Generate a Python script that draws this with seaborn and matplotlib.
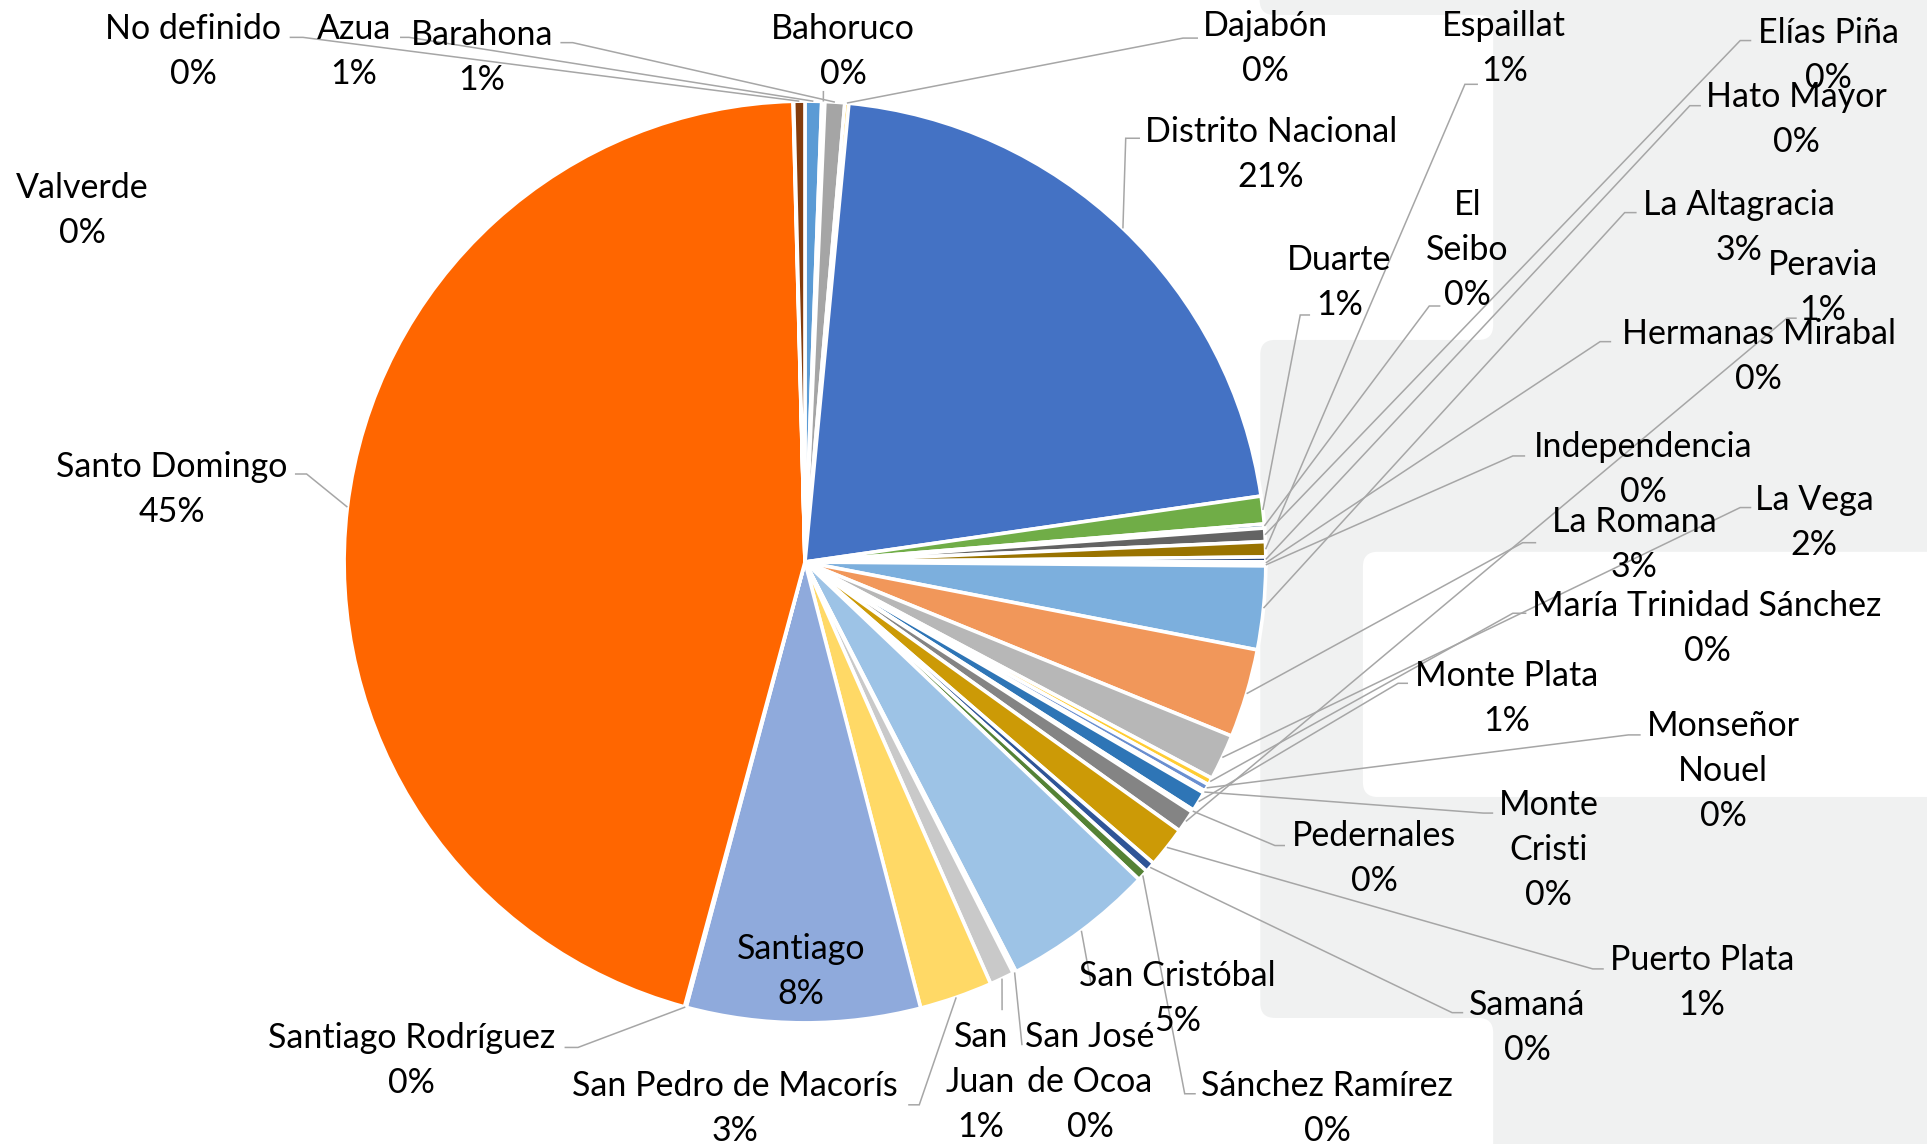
import numpy as np
import matplotlib
matplotlib.use("Agg")
import matplotlib.pyplot as plt
from matplotlib.patches import FancyBboxPatch, Rectangle
import seaborn as sns

# Provinces in sheet order (pie runs clockwise from 12 o'clock)
provinces = [
    "Azua", "Bahoruco", "Barahona", "Dajabón", "Distrito Nacional", "Duarte",
    "El Seibo", "Elías Piña", "Espaillat", "Hato Mayor", "Hermanas Mirabal",
    "Independencia", "La Altagracia", "La Romana", "La Vega",
    "María Trinidad Sánchez", "Monseñor Nouel", "Monte Cristi", "Monte Plata",
    "Pedernales", "Peravia", "Puerto Plata", "Samaná", "Sánchez Ramírez",
    "San Cristóbal", "San José de Ocoa", "San Juan", "San Pedro de Macorís",
    "Santiago", "Santiago Rodríguez", "Santo Domingo", "Valverde", "No definido",
]

# Share of the total, in percent
shares = [
    0.58, 0.11, 0.69, 0.14, 21.19, 0.97,
    0.14, 0.47, 0.53, 0.17, 0.07,
    0.07, 2.92, 3.11, 1.61,
    0.25, 0.25, 0.08, 0.69,
    0.08, 0.78, 1.44, 0.36, 0.39,
    5.33, 0.11, 0.86, 2.56,
    8.19, 0.06, 45.37, 0.02, 0.39,
]

slice_colors = [
    "#5B9BD5", "#ED7D31", "#A5A5A5", "#FFC000", "#4472C4", "#70AD47",
    "#255E91", "#636363", "#997300", "#264478", "#43682B",
    "#698ED0", "#7CAFDD", "#F1975A", "#B7B7B7",
    "#FFCD33", "#6A8FD0", "#3B64AD", "#2E75B6",
    "#C55A11", "#848484", "#CC9A06", "#2F5597", "#548235",
    "#9DC3E6", "#A9D18E", "#C9C9C9", "#FFD966",
    "#8FAADC", "#F4B183", "#FF6600", "#7F6000", "#843C0C",
]

# Label text broken over several lines
wrapped = {
    "El Seibo": ["El", "Seibo"],
    "Monseñor Nouel": ["Monseñor", "Nouel"],
    "Monte Cristi": ["Monte", "Cristi"],
    "San José de Ocoa": ["San José", "de Ocoa"],
    "San Juan": ["San", "Juan"],
}

# Layout grid: 1568 units across the canvas
W = 1568.0
H = W * 1144 / 1927
CX, CY, R = 655.0, 457.3, 375.0
LINE_STEP = 36.6

# label centre (first line) and leader path from the label towards the pie
label_layout = {
    "Azua": ((288, 22), [(325.5, 30.4), (332.8, 30.4)]),
    "Bahoruco": ((686, 22), [(670, 74)]),
    "Barahona": ((392, 27), [(456, 34.7), (466, 34.7)]),
    "Dajabón": ((1030, 19), [(974.8, 31), (962.6, 31)]),
    "Distrito Nacional": ((1034, 105.8), [(927.6, 112.5), (916, 112.5)]),
    "Duarte": ((1090, 210), [(1066, 256.3), (1058, 256.3)]),
    "El Seibo": ((1194, 165), [(1172, 249), (1163, 249)]),
    "Elías Piña": ((1488, 25), [(1425, 33), (1416, 33)]),
    "Espaillat": ((1224, 19), [(1202.6, 68.6), (1192, 68.6)]),
    "Hato Mayor": ((1462, 77), [(1384, 86), (1375, 86)]),
    "Hermanas Mirabal": ((1431, 270), [(1311, 278), (1302, 278)]),
    "Independencia": ((1337, 362), [(1241, 371), (1231, 371)]),
    "La Altagracia": ((1415, 165), [(1331.7, 173), (1322, 173)]),
    "La Romana": ((1330, 423), [(1250, 441.6), (1239, 441.6)]),
    "La Vega": ((1476, 405), [(1425, 413), (1416, 413)]),
    "María Trinidad Sánchez": ((1389, 491), [(1242, 499), (1231, 499)]),
    "Monseñor Nouel": ((1402, 589), [(1335, 598), (1325, 598)]),
    "Monte Cristi": ((1260, 653), [(1215, 661.6), (1207, 661.6)]),
    "Monte Plata": ((1226, 548), [(1145.7, 556), (1137.6, 556)]),
    "Pedernales": ((1118, 678), [(1045.6, 688), (1037.4, 688)]),
    "Peravia": ((1483, 214), [(1462, 258.9), (1454, 258.9)]),
    "Puerto Plata": ((1385, 779), [(1305, 788.4), (1296, 788.4)]),
    "Samaná": ((1243, 816), [(1190.6, 824), (1181.6, 824)]),
    "Sánchez Ramírez": ((1080, 882), [(973, 890), (964, 890)]),
    "San Cristóbal": ((958, 792), [(888, 801.5)]),
    "San José de Ocoa": ((887, 842), [(831.6, 850.5)]),
    "San Juan": ((798, 842), [(815.4, 822)]),
    "San Pedro de Macorís": ((598, 882), [(739, 899), (748, 899)]),
    "Santiago": ((652, 770), None),
    "Santiago Rodríguez": ((335, 843), [(459.4, 852.3), (470.3, 852.3)]),
    "Santo Domingo": ((140, 378), [(240, 385.7), (249.5, 385.7)]),
    "Valverde": ((67, 151), None),
    "No definido": ((157, 22), [(235.7, 30.4), (246.5, 30.4)]),
}

sns.set_theme(style="white")
plt.rcParams["font.family"] = ["Lato", "DejaVu Sans"]

fig = plt.figure(figsize=(19.27, 11.44), dpi=100)
fig.patch.set_facecolor("white")
ax = fig.add_axes([0, 0, 1, 1])

# Light backdrop shape on the right
BG = "#F0F1F1"
RND = "round,pad=0,rounding_size=12"
ax.add_patch(FancyBboxPatch((1025, -40), 700, 52.2, boxstyle=RND, fc=BG, ec="none", zorder=0))
ax.add_patch(Rectangle((1215, -40), 500, 1000, fc=BG, ec="none", zorder=0))
ax.add_patch(FancyBboxPatch((1025.5, 276.6), 700, 551.7, boxstyle=RND, fc=BG, ec="none", zorder=0))
ax.add_patch(Rectangle((1195, 0), 20, 25, fc=BG, ec="none", zorder=0))
ax.add_patch(Rectangle((1195, 262), 20, 28, fc=BG, ec="none", zorder=0))
ax.add_patch(Rectangle((1195, 815), 20, 28, fc=BG, ec="none", zorder=0))
ax.add_patch(FancyBboxPatch((990, 12.2), 225, 264.4, boxstyle=RND, fc="white", ec="none", zorder=0.5))
ax.add_patch(FancyBboxPatch((990, 828.3), 225, 200, boxstyle=RND, fc="white", ec="none", zorder=0.5))
ax.add_patch(FancyBboxPatch((1109, 449), 700, 199.5, boxstyle=RND, fc="white", ec="none", zorder=0.5))

# y grows downward here, so counterclock=True turns clockwise on screen
wedges, _ = ax.pie(
    shares, colors=slice_colors, startangle=-90, counterclock=True,
    radius=R, center=(CX, CY), frame=True,
    wedgeprops=dict(edgecolor="white", linewidth=2.6, zorder=2),
)

total = float(np.sum(shares))
FS = 24.5
base_off = 10.0

for name, share, wedge in zip(provinces, shares, wedges):
    (lx, ly), path = label_layout[name]
    pct = int(np.floor(share / total * 100 + 0.5))
    lines = wrapped.get(name, [name]) + [f"{pct}%"]
    for i, txt in enumerate(lines):
        ax.text(lx, ly + i * LINE_STEP + base_off, txt, ha="center", va="baseline",
                fontsize=FS, color="black", zorder=5)
    if path:
        mid = np.deg2rad((wedge.theta1 + wedge.theta2) / 2)
        rim = (CX + R * np.cos(mid), CY + R * np.sin(mid))
        pts = list(path) + [rim]
        ax.plot([p[0] for p in pts], [p[1] for p in pts], color="#A6A6A6",
                lw=1.1, zorder=4, solid_capstyle="butt", solid_joinstyle="miter")

ax.set_xlim(0, W)
ax.set_ylim(H, 0)
ax.set_aspect("auto")
ax.axis("off")

fig.savefig("out.png", dpi=100, facecolor="white")
